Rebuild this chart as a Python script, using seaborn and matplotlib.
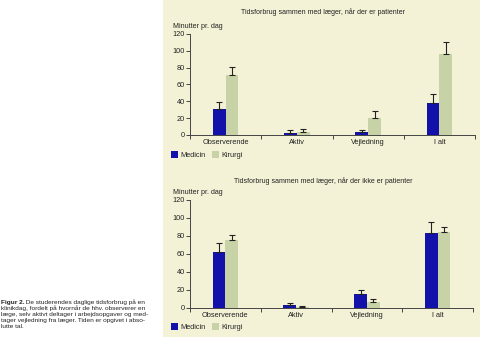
import matplotlib
matplotlib.use("Agg")
import matplotlib.pyplot as plt
import matplotlib.patches as mpatches
from matplotlib.text import Annotation
import seaborn as sns
import pandas as pd

# Data (minutes per day)
categories = ["Observerende", "Aktiv", "Vejledning", "I alt"]
groups = ["Medicin", "Kirurgi"]

# With patients present
med_with = [31, 2.5, 3.5, 37.5]
med_with_err = [8, 3, 2.5, 11]
kir_with = [71, 3.5, 20, 96]
kir_with_err = [10, 3.5, 8.5, 15]

# Without patients present
med_without = [62.5, 3.5, 16, 83]
med_without_err = [9.5, 2, 3.5, 12.5]
kir_without = [75.5, 1, 7, 84.5]
kir_without_err = [6, 1.5, 2.5, 6]

y_ticks = [0, 20, 40, 60, 80, 100, 120]

title_with = "Tidsforbrug sammen med læger, når der er patienter"
title_without = "Tidsforbrug sammen med læger, når der ikke er patienter"
y_label = "Minutter pr. dag"
caption_lines = [
    "De studerendes daglige tidsforbrug på en",
    "klinikdag, fordelt på hvornår de hhv. observerer en",
    "læge, selv aktivt deltager i arbejdsopgaver og med-",
    "tager vejledning fra læger. Tiden er opgivet i abso-",
    "lutte tal.",
]

colors = {"Medicin": "#1212aa", "Kirurgi": "#c7d3a6"}
bg = "#f4f2d6"
fam = ["Liberation Sans Narrow", "DejaVu Sans Condensed", "Liberation Sans",
       "DejaVu Sans"]

sns.set_theme(style="ticks")
plt.rcParams["font.family"] = fam
plt.rcParams["axes.edgecolor"] = "#444444"
plt.rcParams["xtick.color"] = "#444444"
plt.rcParams["ytick.color"] = "#444444"

fig = plt.figure(figsize=(4.8, 3.4), dpi=100)
fig.patch.set_facecolor("white")
fig.patches.append(mpatches.Rectangle((163 / 480, 3 / 340), 1 - 163 / 480, 1 - 3 / 340,
                                      transform=fig.transFigure, facecolor=bg,
                                      edgecolor="none", zorder=-5))


def make_df(med, kir, med_e, kir_e):
    rows = []
    for c, v, e in zip(categories, med, med_e):
        rows.append({"kategori": c, "gruppe": "Medicin", "min": v, "err": e})
    for c, v, e in zip(categories, kir, kir_e):
        rows.append({"kategori": c, "gruppe": "Kirurgi", "min": v, "err": e})
    return pd.DataFrame(rows)


def draw_panel(rect, df, title, title_y, ylab_y, legend_y):
    ax = fig.add_axes(rect)
    ax.set_zorder(2)
    ax.set_facecolor("none")
    sns.barplot(data=df, x="kategori", y="min", hue="gruppe", order=categories,
                hue_order=groups, palette=colors, width=0.36, errorbar=None,
                saturation=1, ax=ax, legend=False, zorder=3, linewidth=0,
                edgecolor="none")
    for cont, g in zip(ax.containers, groups):
        sub = df[df["gruppe"] == g].set_index("kategori").loc[categories]
        xs = [p.get_x() + p.get_width() / 2 for p in cont]
        ys = [p.get_height() for p in cont]
        ax.errorbar(xs, ys, yerr=[[0] * len(xs), list(sub["err"])], fmt="none",
                    ecolor="#222222", elinewidth=0.8, capsize=2.0, capthick=0.8,
                    zorder=4)
    ax.set_xlim(-0.5, 3.5)
    ax.set_ylim(0, 120)
    ax.set_yticks(y_ticks)
    ax.set_yticklabels([str(t) for t in y_ticks])
    ax.set_xticks([-0.5, 0.5, 1.5, 2.5, 3.5])
    ax.set_xticklabels([])
    ax.set_xticks(range(len(categories)), minor=True)
    ax.set_xticklabels(categories, minor=True)
    ax.tick_params(axis="x", which="major", length=3, width=0.7, direction="out")
    ax.tick_params(axis="x", which="minor", length=0, labelsize=5.3, pad=3,
                   labelcolor="#222222")
    ax.tick_params(axis="y", length=3, width=0.7, labelsize=5.3, pad=0.5,
                   labelcolor="#222222")
    ax.set_xlabel("")
    ax.set_ylabel("")
    for s in ["top", "right"]:
        ax.spines[s].set_visible(False)
    for s in ["left", "bottom"]:
        ax.spines[s].set_linewidth(0.7)
    fig.text(323 / 480, 1 - title_y / 340, title, ha="center", va="center",
             fontsize=5.0, color="#222222")
    fig.text(173 / 480, 1 - ylab_y / 340, y_label, ha="left", va="center",
             fontsize=5.1, color="#222222")
    handles = [mpatches.Patch(facecolor=colors[g], edgecolor="none", label=g)
               for g in groups]
    fig.legend(handles=handles, loc="center left",
               bbox_to_anchor=(171 / 480, 1 - legend_y / 340), ncol=2,
               frameon=False, fontsize=5.3, handlelength=1.0, handleheight=1.1,
               handletextpad=0.3, columnspacing=0.8, borderaxespad=0,
               borderpad=0)
    return ax


df_with = make_df(med_with, kir_with, med_with_err, kir_with_err)
df_without = make_df(med_without, kir_without, med_without_err, kir_without_err)

draw_panel([190 / 480, 1 - 135 / 340, 285 / 480, 101 / 340], df_with,
           title_with, 12, 26, 155)
draw_panel([190 / 480, 1 - 308 / 340, 283 / 480, 108 / 340], df_without,
           title_without, 181, 193, 327)

# Caption on the left
y0 = 302.5
fs = 4.65
step = 6.0
lead = fig.text(1 / 480, 1 - y0 / 340, "Figur 2.", ha="left", va="center",
                fontsize=fs, fontweight="bold", color="#222222")
fig.add_artist(Annotation(" " + caption_lines[0], xy=(1, 0.5), xycoords=lead,
                          ha="left", va="center", fontsize=fs, color="#222222"))
for i, line in enumerate(caption_lines[1:], start=1):
    fig.text(1 / 480, 1 - (y0 + i * step) / 340, line, ha="left", va="center",
             fontsize=fs, color="#222222")

fig.savefig("out.png", dpi=100, facecolor="white")
